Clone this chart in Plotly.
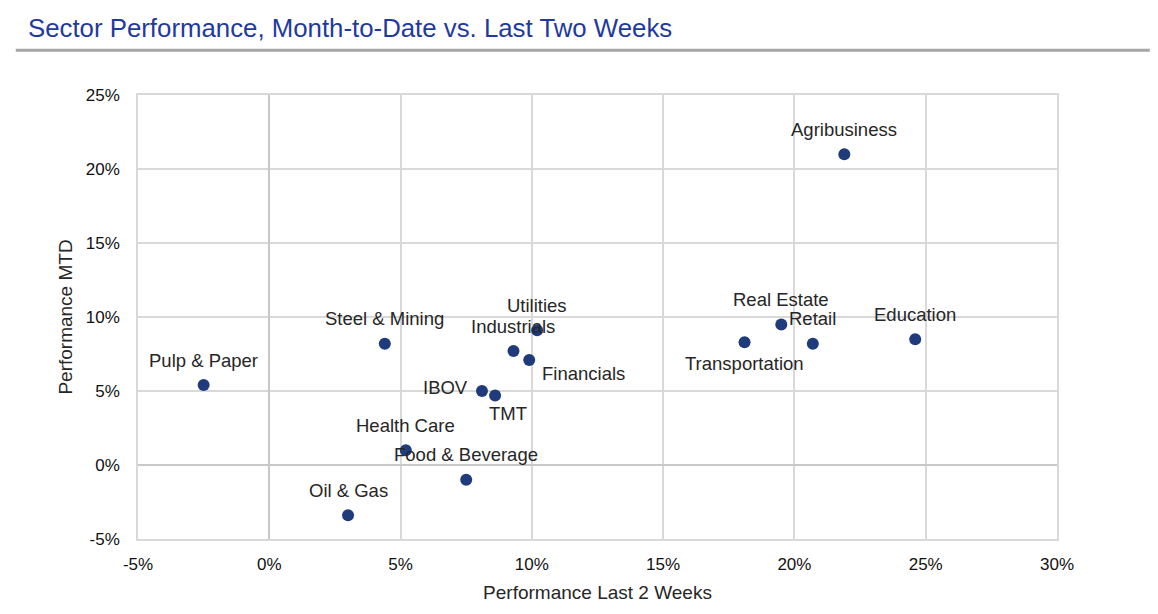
import plotly.graph_objects as go

sectors = [
    "Agribusiness", "Education", "Retail", "Real Estate", "Transportation",
    "Utilities", "Industrials", "Financials", "TMT", "IBOV",
    "Steel & Mining", "Pulp & Paper", "Health Care", "Food & Beverage", "Oil & Gas",
]
last_2_weeks = [21.9, 24.6, 20.7, 19.5, 18.1, 10.2, 9.3, 9.9, 8.6, 8.1, 4.4, -2.5, 5.2, 7.5, 3.0]
mtd = [21.0, 8.5, 8.2, 9.5, 8.3, 9.1, 7.7, 7.1, 4.7, 5.0, 8.2, 5.4, 1.0, -1.0, -3.4]

tick_vals_x = [-5, 0, 5, 10, 15, 20, 25, 30]
tick_text_x = ["-5%", "0%", "5%", "10%", "15%", "20%", "25%", "30%"]
tick_vals_y = [-5, 0, 5, 10, 15, 20, 25]
tick_text_y = ["-5%", "0%", "5%", "10%", "15%", "20%", "25%"]

FONT = "Liberation Sans, Arial"

# label placement: (xanchor, xshift, yshift); default is centred above the point
label_place = {
    "Transportation": ("center", 0, -21),
    "TMT": ("center", 13, -18),
    "Financials": ("left", 11, -14),
    "IBOV": ("right", -12, 4),
}

fig = go.Figure()
fig.add_trace(go.Scatter(
    x=last_2_weeks,
    y=mtd,
    mode="markers",
    marker=dict(size=12, color="#1f3b7c"),
    cliponaxis=False,
    hoverinfo="skip",
))

for name, xv, yv in zip(sectors, last_2_weeks, mtd):
    xanchor, xshift, yshift = label_place.get(name, ("center", 0, 25))
    fig.add_annotation(
        x=xv, y=yv, text=name, showarrow=False,
        xanchor=xanchor, yanchor="middle",
        xshift=xshift, yshift=yshift,
        font=dict(family=FONT, size=18.5, color="#262626"),
    )

axis_common = dict(
    automargin=False,
    showgrid=True,
    gridcolor="#d9d9d9",
    gridwidth=1.5,
    zeroline=True,
    zerolinecolor="#c8c8c8",
    zerolinewidth=1.5,
    showline=True,
    linecolor="#d9d9d9",
    linewidth=1.5,
    mirror=True,
    ticks="",
    tickfont=dict(family=FONT, size=17, color="#111111"),
)

fig.update_xaxes(
    range=[-5, 30],
    tickvals=tick_vals_x,
    ticktext=tick_text_x,
    ticklabelstandoff=9,
    title=dict(text="Performance Last 2 Weeks", standoff=13,
               font=dict(family=FONT, size=19, color="#262626")),
    **axis_common,
)
fig.update_yaxes(
    range=[-5, 25],
    tickvals=tick_vals_y,
    ticktext=tick_text_y,
    ticklabelstandoff=13,
    title=dict(text="Performance MTD", standoff=8,
               font=dict(family=FONT, size=19, color="#262626")),
    **axis_common,
)

# grey rule under the title
fig.add_shape(
    type="line", xref="paper", yref="paper",
    x0=-0.133, x1=1.101, y0=1.101, y1=1.101,
    line=dict(color="#a6a6a6", width=3),
)

fig.update_layout(
    width=1142,
    height=598,
    margin=dict(l=130, r=93, t=87, b=67),
    paper_bgcolor="white",
    plot_bgcolor="white",
    showlegend=False,
    title=dict(
        text="Sector Performance, Month-to-Date vs. Last Two Weeks",
        x=20 / 1142, xanchor="left", xref="container",
        y=1 - 20 / 598, yanchor="middle", yref="container",
        font=dict(family=FONT, size=25.8, color="#1f3a9e"),
    ),
)

fig.write_html("out.html")
